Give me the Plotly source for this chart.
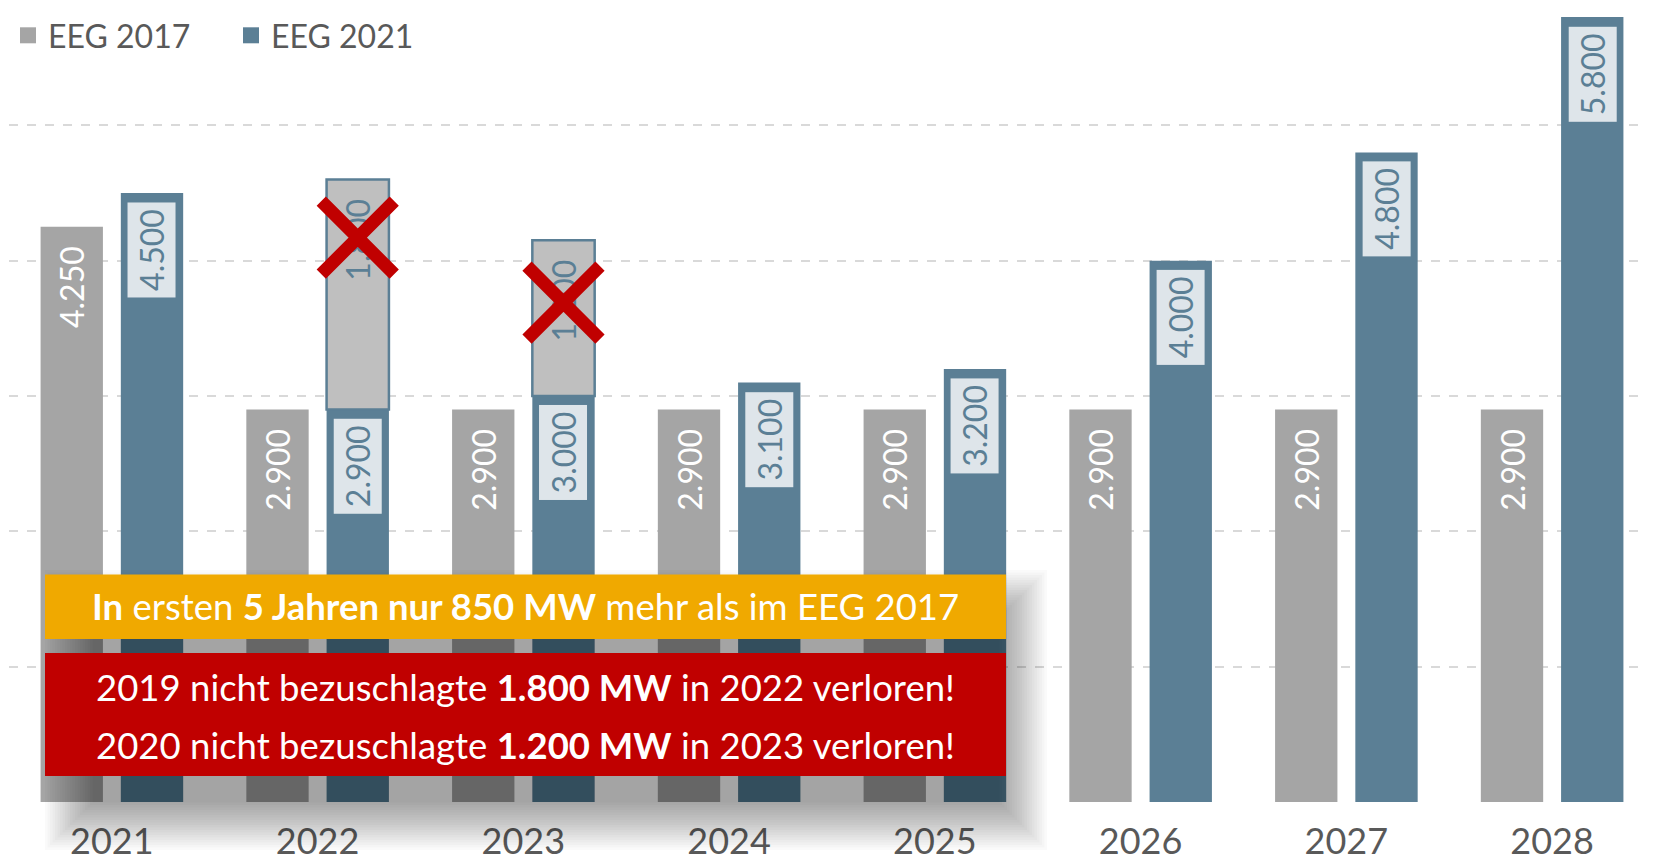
import plotly.graph_objects as go

# Ausschreibungsmengen Wind an Land (MW)
years = [2021, 2022, 2023, 2024, 2025, 2026, 2027, 2028]
eeg2017 = [4250, 2900, 2900, 2900, 2900, 2900, 2900, 2900]
eeg2021 = [4500, 2900, 3000, 3100, 3200, 4000, 4800, 5800]

# nicht bezuschlagte Mengen, die oben auf 2022/2023 sitzen (durchgestrichen)
lost_years = [2022, 2023]
lost_base = [2900, 3000]
lost_height = [1700, 1150]
lost_labels = ["1.800", "1.200"]
cross_y = [4170, 3690]

GRAY = "#a5a5a5"
BLUE = "#5b7f95"
LABEL_BG = "#dee5ea"
GHOST = "#bfbfbf"
RED = "#c00000"
ORANGE = "#f0a900"
TXT = "#595959"
FONT = "Lato"
NB = "\u00a0"

SLOT = 0.39   # Abstand der Balkenmitten innerhalb einer Gruppe
BW = 0.303    # Balkenbreite


def de(v):
    return f"{v:,}".replace(",", ".")


# die Seite hat 8px Rand, daher Figur etwas kleiner
FIG_W, FIG_H = 1647, 853
# Plotfläche in Pixeln, bezogen auf das Fenster (für die Textkästen)
L, T, W, H = 9, 10, 1646, 792
OFF = 8


def px(x):
    return (x - L) / W


def py(y):
    return (T + H - y) / H


fig = go.Figure()

fig.add_trace(
    go.Bar(
        x=years,
        y=eeg2017,
        offset=-SLOT / 2 - BW / 2,
        width=BW,
        marker=dict(color=GRAY, line=dict(width=0)),
        text=[de(v) + NB * 2 for v in eeg2017],
        textposition="inside",
        insidetextanchor="end",
        textangle=-90,
        textfont=dict(color="white", size=32, family=FONT),
        showlegend=False,
        hoverinfo="skip",
    )
)

fig.add_trace(
    go.Bar(
        x=years,
        y=eeg2021,
        offset=SLOT / 2 - BW / 2,
        width=BW,
        marker=dict(color=BLUE, line=dict(width=0)),
        showlegend=False,
        hoverinfo="skip",
    )
)

# gestrichene Mengen
fig.add_trace(
    go.Bar(
        x=lost_years,
        y=lost_height,
        base=lost_base,
        offset=SLOT / 2 - BW / 2,
        width=BW,
        marker=dict(color=GHOST, line=dict(color=BLUE, width=2.5)),
        text=[t + NB * 2 for t in lost_labels],
        textposition="inside",
        insidetextanchor="end",
        textangle=-90,
        textfont=dict(color=BLUE, size=32, family=FONT),
        showlegend=False,
        hoverinfo="skip",
    )
)

fig.add_trace(
    go.Scatter(
        x=[y + SLOT / 2 for y in lost_years],
        y=cross_y,
        mode="markers",
        marker=dict(symbol="x-thin", size=73, color=RED, line=dict(color=RED, width=13)),
        showlegend=False,
        hoverinfo="skip",
    )
)

# Legende
for name, col in [("EEG 2017", GRAY), ("EEG 2021", BLUE)]:
    fig.add_trace(
        go.Scatter(
            x=[None],
            y=[None],
            mode="markers",
            name=name,
            marker=dict(symbol="square", size=16, color=col),
        )
    )

annotations = []
for yr, v in zip(years, eeg2021):
    annotations.append(
        dict(
            x=yr + SLOT / 2,
            y=v,
            xref="x",
            yref="y",
            yanchor="top",
            yshift=-9,
            text=de(v),
            textangle=-90,
            showarrow=False,
            width=88,
            height=41,
            borderpad=3,
            bgcolor=LABEL_BG,
            font=dict(color=BLUE, size=32, family=FONT),
        )
    )

# Schatten und Textkästen
shapes = []
n = 20
for i in range(n):
    d = 25 - i * 2.5
    shapes.append(
        dict(
            type="rect",
            xref="paper",
            yref="paper",
            x0=px(70 - d),
            x1=px(1022 + d),
            y0=py(825 + d),
            y1=py(595 - d),
            fillcolor="rgba(0,0,0,0.02)",
            line=dict(width=0),
            layer="above",
        )
    )
shapes.append(
    dict(type="rect", xref="paper", yref="paper",
         x0=px(45), x1=px(1006), y0=py(639), y1=py(574.5),
         fillcolor=ORANGE, line=dict(width=0), layer="above")
)
shapes.append(
    dict(type="rect", xref="paper", yref="paper",
         x0=px(45), x1=px(1006), y0=py(776), y1=py(653),
         fillcolor=RED, line=dict(width=0), layer="above")
)

box_texts = [
    (606, "<b>In</b> ersten <b>5 Jahren nur 850 MW</b> mehr als im EEG 2017"),
    (687, "2019 nicht bezuschlagte <b>1.800 MW</b> in 2022 verloren!"),
    (745, "2020 nicht bezuschlagte <b>1.200 MW</b> in 2023 verloren!"),
]
for yp, t in box_texts:
    annotations.append(
        dict(
            x=px(525.5),
            y=py(yp),
            xref="paper",
            yref="paper",
            xanchor="center",
            yanchor="middle",
            text=t,
            showarrow=False,
            font=dict(color="white", size=36.5, family=FONT),
        )
    )

fig.update_layout(
    width=FIG_W,
    height=FIG_H,
    barmode="overlay",
    plot_bgcolor="white",
    paper_bgcolor="white",
    margin=dict(l=L - OFF, r=0, t=T - OFF, b=FIG_H - (T - OFF) - H, autoexpand=False),
    font=dict(family=FONT, color=TXT),
    annotations=annotations,
    shapes=shapes,
    legend=dict(
        orientation="h",
        xref="container",
        yref="container",
        x=-0.004,
        y=1,
        xanchor="left",
        yanchor="top",
        font=dict(size=32, color=TXT, family=FONT),
        entrywidth=178,
        entrywidthmode="pixels",
        bgcolor="rgba(0,0,0,0)",
    ),
    xaxis=dict(
        range=[2020.5, 2028.5],
        tickvals=years,
        ticktext=[str(y) for y in years],
        tickfont=dict(size=36, color=TXT, family=FONT),
        ticks="",
        ticklabelstandoff=15,
        showgrid=False,
        zeroline=False,
        showline=False,
    ),
    yaxis=dict(
        range=[0, 5852],
        dtick=1000,
        showticklabels=False,
        showgrid=True,
        gridcolor="#d9d9d9",
        griddash="dash",
        gridwidth=1.5,
        zeroline=False,
        showline=False,
    ),
)

fig.write_html("out.html")
